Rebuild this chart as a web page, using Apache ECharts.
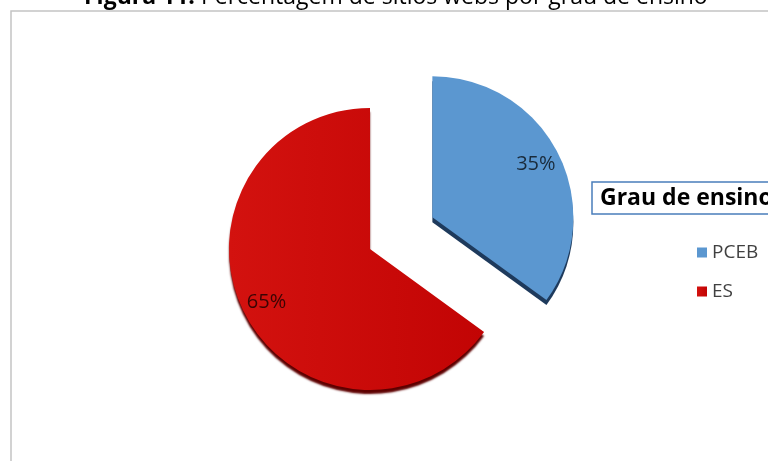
<!DOCTYPE html>
<html>
<head>
<meta charset="utf-8">
<script src="https://cdn.jsdelivr.net/npm/echarts@6/dist/echarts.min.js"></script>
<style>
  html, body { margin: 0; padding: 0; background: #ffffff; }
  #chart { width: 768px; height: 461px; }
</style>
</head>
<body>
<div id="chart"></div>
<script>
// Share of websites by level of education
const categories = ['PCEB', 'ES'];
const shares = [35, 65];
const sliceColors = ['#5b97d0', '#cc0a0a'];
const edgeColors = ['#1e3a5c', '#5e0000'];

const chart = echarts.init(document.getElementById('chart'), null, { renderer: 'canvas' });

const pieData = categories.map((name, i) => ({
  name: name,
  value: shares[i],
  selected: i === 0,
  itemStyle: {
    color: i === 1 ? {
      type: 'linear', x: 0, y: 0, x2: 1, y2: 0,
      colorStops: [{ offset: 0, color: '#d3120f' }, { offset: 1, color: '#c20404' }]
    } : sliceColors[i],
    shadowColor: edgeColors[i],
    shadowOffsetX: 0,
    shadowOffsetY: i === 0 ? 5 : 4,
    shadowBlur: i === 0 ? 0 : 2
  }
}));

// push the percentage labels further out along each slice's bisector
const labelShift = [[38, -20], [-38, 20]];

chart.setOption({
  animation: false,
  color: sliceColors,
  title: [
    {
      text: '{b|Figura 11.} Percentagem de sítios webs por grau de ensino',
      left: 79,
      top: -19,
      textStyle: {
        fontFamily: 'Open Sans',
        fontSize: 23,
        fontWeight: 'normal',
        color: '#000000',
        rich: {
          b: { fontFamily: 'Open Sans', fontSize: 23, fontWeight: 'bold', color: '#000000' }
        }
      }
    },
    {
      text: 'Grau de ensino',
      left: 592,
      top: 182,
      padding: [5, 40, 4, 8],
      borderColor: '#4a7ebb',
      borderWidth: 1.5,
      backgroundColor: '#ffffff',
      textStyle: {
        fontFamily: 'Open Sans',
        fontSize: 23,
        fontWeight: 'bold',
        color: '#000000'
      }
    }
  ],
  legend: {
    orient: 'vertical',
    left: 692,
    top: 238,
    itemWidth: 10,
    itemHeight: 10,
    itemGap: 20,
    icon: 'rect',
    selectedMode: false,
    data: categories,
    textStyle: {
      fontFamily: 'Open Sans',
      fontSize: 19,
      color: '#404040'
    }
  },
  graphic: [
    {
      type: 'rect',
      z: -10,
      shape: { x: 11, y: 11, width: 800, height: 500 },
      style: { fill: '#ffffff', stroke: '#c4c4c4', lineWidth: 1.5 }
    }
  ],
  series: [
    {
      type: 'pie',
      center: [370, 249],
      radius: 141,
      startAngle: 90,
      clockwise: true,
      selectedMode: 'single',
      selectedOffset: 70,
      avoidLabelOverlap: false,
      emphasis: { disabled: true },
      label: {
        show: true,
        position: 'inside',
        formatter: '{c}%',
        fontFamily: 'Open Sans',
        fontSize: 20,
        color: 'rgba(0,0,0,0.72)'
      },
      labelLine: { show: false },
      labelLayout: function (params) {
        const s = labelShift[params.dataIndex];
        return { dx: s[0], dy: s[1] };
      },
      data: pieData
    }
  ]
});
</script>
</body>
</html>
